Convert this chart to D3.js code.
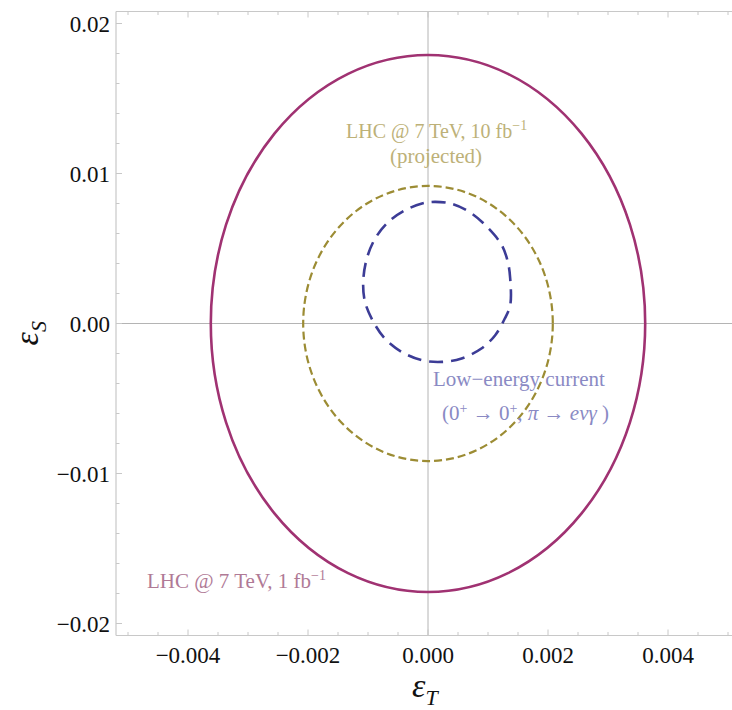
<!DOCTYPE html>
<html>
<head>
<meta charset="utf-8">
<script src="https://cdn.jsdelivr.net/npm/d3@7"></script>
<style>
  body { margin: 0; background: #fff; }
  text { font-family: "Liberation Serif", "DejaVu Serif", serif; }
</style>
</head>
<body>
<div id="wrapper"></div>
<script>
const FRAME_COLOR = "#c8c8c8";
const AXIS_COLOR = "#b4b4b4";

// tick values
const xMajorTicks = [-0.004, -0.002, 0.0, 0.002, 0.004];
const xTickLabels = ["\u22120.004", "\u22120.002", "0.000", "0.002", "0.004"];
const yMajorTicks = [-0.02, -0.01, 0.0, 0.01, 0.02];
const yTickLabels = ["\u22120.02", "\u22120.01", "0.00", "0.01", "0.02"];

// ellipses: semi axes in eps_T and eps_S
const ellipseNames = ["LHC 1 fb", "LHC 10 fb"];
const ellipseRx = [0.00362, 0.00208];
const ellipseRy = [0.0179, 0.00917];
const ellipseColors = ["#a03272", "#9c8c34"];
const ellipseDash = [null, "8 4"];
const ellipseWidth = [2.6, 2.2];

// low-energy bound, closed curve (eps_T, eps_S)
const lowT = [0.00012, 0.00042, 0.00073, 0.00101, 0.00123, 0.00133, 0.00137, 0.00137,
  0.00128, 0.00112, 0.00089, 0.00056, 0.00023, -0.0001, -0.00044, -0.00072,
  -0.00091, -0.00105, -0.00108, -0.00102, -0.00088, -0.00066, -0.00038, -0.0001];
const lowS = [0.00811, 0.00795, 0.00733, 0.00633, 0.00522, 0.00411, 0.003, 0.00122,
  0.00033, -0.00078, -0.00167, -0.00233, -0.00256, -0.00245, -0.00189, -0.001,
  0.00011, 0.00144, 0.00277, 0.00433, 0.00567, 0.00677, 0.00755, 0.008];

const width = 732;
const height = 710;

const svg = d3.select("#wrapper")
  .append("svg")
  .attr("width", width)
  .attr("height", height);

const xScale = d3.scaleLinear()
  .domain([-0.0052, 0.0052])
  .range([116, 740]);

const yScale = d3.scaleLinear()
  .domain([-0.0208, 0.0208])
  .range([635.5, 11.5]);

const [x0, x1] = xScale.range();
const [yB, yT] = yScale.range();

// zero axes
svg.append("line")
  .attr("x1", xScale(0)).attr("x2", xScale(0))
  .attr("y1", yT).attr("y2", yB)
  .attr("stroke", AXIS_COLOR).attr("stroke-width", 1);
svg.append("line")
  .attr("x1", x0).attr("x2", x1)
  .attr("y1", yScale(0)).attr("y2", yScale(0))
  .attr("stroke", AXIS_COLOR).attr("stroke-width", 1);

// curves
svg.append("clipPath").attr("id", "plotclip")
  .append("rect")
  .attr("x", x0).attr("y", yT)
  .attr("width", x1 - x0).attr("height", yB - yT);

const plot = svg.append("g").attr("clip-path", "url(#plotclip)");

ellipseNames.forEach((name, i) => {
  plot.append("ellipse")
    .attr("cx", xScale(0))
    .attr("cy", yScale(0))
    .attr("rx", xScale(ellipseRx[i]) - xScale(0))
    .attr("ry", yScale(0) - yScale(ellipseRy[i]))
    .attr("fill", "none")
    .attr("stroke", ellipseColors[i])
    .attr("stroke-width", ellipseWidth[i])
    .attr("stroke-dasharray", ellipseDash[i]);
});

const lowPoints = lowT.map((t, i) => [t, lowS[i]]);
const lowLine = d3.line()
  .x(d => xScale(d[0]))
  .y(d => yScale(d[1]))
  .curve(d3.curveCatmullRomClosed);

plot.append("path")
  .attr("d", lowLine(lowPoints))
  .attr("fill", "none")
  .attr("stroke", "#3c3c96")
  .attr("stroke-width", 2.6)
  .attr("stroke-dasharray", "14 8");

// frame
const frame = svg.append("g");
frame.append("line").attr("x1", x0).attr("x2", x1).attr("y1", yT).attr("y2", yT);
frame.append("line").attr("x1", x0).attr("x2", x1).attr("y1", yB).attr("y2", yB);
frame.append("line").attr("x1", x0).attr("x2", x0).attr("y1", yT).attr("y2", yB);
frame.selectAll("line").attr("stroke", FRAME_COLOR).attr("stroke-width", 1.2);

// ticks (inward, Mathematica style)
const xMinor = d3.range(-0.005, 0.00501, 0.0005);
const yMinor = d3.range(-0.02, 0.02001, 0.002);
const isMajor = (v, list) => list.some(m => Math.abs(m - v) < 1e-9);

const tickG = svg.append("g").attr("stroke", FRAME_COLOR).attr("stroke-width", 1);
xMinor.forEach(v => {
  const len = isMajor(v, xMajorTicks) ? 6 : 3.5;
  tickG.append("line").attr("x1", xScale(v)).attr("x2", xScale(v))
    .attr("y1", yB).attr("y2", yB - len);
  tickG.append("line").attr("x1", xScale(v)).attr("x2", xScale(v))
    .attr("y1", yT).attr("y2", yT + len);
});
yMinor.forEach(v => {
  const len = isMajor(v, yMajorTicks) ? 6 : 3.5;
  tickG.append("line").attr("x1", x0).attr("x2", x0 + len)
    .attr("y1", yScale(v)).attr("y2", yScale(v));
});

// tick labels
svg.append("g").selectAll("text")
  .data(xMajorTicks)
  .join("text")
  .attr("x", d => xScale(d))
  .attr("y", yB + 27)
  .attr("text-anchor", "middle")
  .style("font-size", "23px")
  .attr("fill", "#111")
  .text((d, i) => xTickLabels[i]);

svg.append("g").selectAll("text")
  .data(yMajorTicks)
  .join("text")
  .attr("x", x0 - 6)
  .attr("y", d => yScale(d) + 8)
  .attr("text-anchor", "end")
  .style("font-size", "23px")
  .attr("fill", "#111")
  .text((d, i) => yTickLabels[i]);

// axis titles
const xTitle = svg.append("text")
  .attr("x", xScale(0) - 16)
  .attr("y", 697)
  .style("font-size", "34px")
  .style("font-style", "italic")
  .attr("fill", "#111");
xTitle.append("tspan").text("\u03b5");
xTitle.append("tspan").attr("dy", 8).style("font-size", "22px").text("T");

const yTitle = svg.append("text")
  .attr("transform", `translate(38, ${yScale(0) + 22}) rotate(-90)`)
  .style("font-size", "34px")
  .style("font-style", "italic")
  .attr("fill", "#111");
yTitle.append("tspan").text("\u03b5");
yTitle.append("tspan").attr("dy", 8).style("font-size", "22px").text("S");

// annotations
const LABEL_SIZE = "21px";
const SUP_SIZE = "14px";

const t10 = svg.append("text")
  .attr("x", 346).attr("y", 138)
  .style("font-size", "20px")
  .attr("fill", "#bdb178");
t10.append("tspan").text("LHC @ 7 TeV, 10 fb");
t10.append("tspan").attr("dy", -8).style("font-size", SUP_SIZE).text("\u22121");

svg.append("text")
  .attr("x", 436).attr("y", 163)
  .attr("text-anchor", "middle")
  .style("font-size", LABEL_SIZE)
  .attr("fill", "#bdb178")
  .text("(projected)");

svg.append("text")
  .attr("x", 433).attr("y", 386)
  .style("font-size", LABEL_SIZE)
  .attr("fill", "#8a8ac4")
  .text("Low\u2212energy current");

const tLow = svg.append("text")
  .attr("x", 442).attr("y", 420)
  .style("font-size", LABEL_SIZE)
  .attr("fill", "#8a8ac4");
tLow.append("tspan").text("(0");
tLow.append("tspan").attr("dy", -7).style("font-size", SUP_SIZE).text("+");
tLow.append("tspan").attr("dy", 7).text(" \u2192 0");
tLow.append("tspan").attr("dy", -7).style("font-size", SUP_SIZE).text("+");
tLow.append("tspan").attr("dy", 7).text(", ");
tLow.append("tspan").style("font-style", "italic").text("\u03c0");
tLow.append("tspan").text(" \u2192 ");
tLow.append("tspan").style("font-style", "italic").text("e\u03bd\u03b3");
tLow.append("tspan").text(" )");

const t1 = svg.append("text")
  .attr("x", 147).attr("y", 588)
  .style("font-size", LABEL_SIZE)
  .attr("fill", "#b07a96");
t1.append("tspan").text("LHC @ 7 TeV, 1 fb");
t1.append("tspan").attr("dy", -8).style("font-size", SUP_SIZE).text("\u22121");
</script>
</body>
</html>
